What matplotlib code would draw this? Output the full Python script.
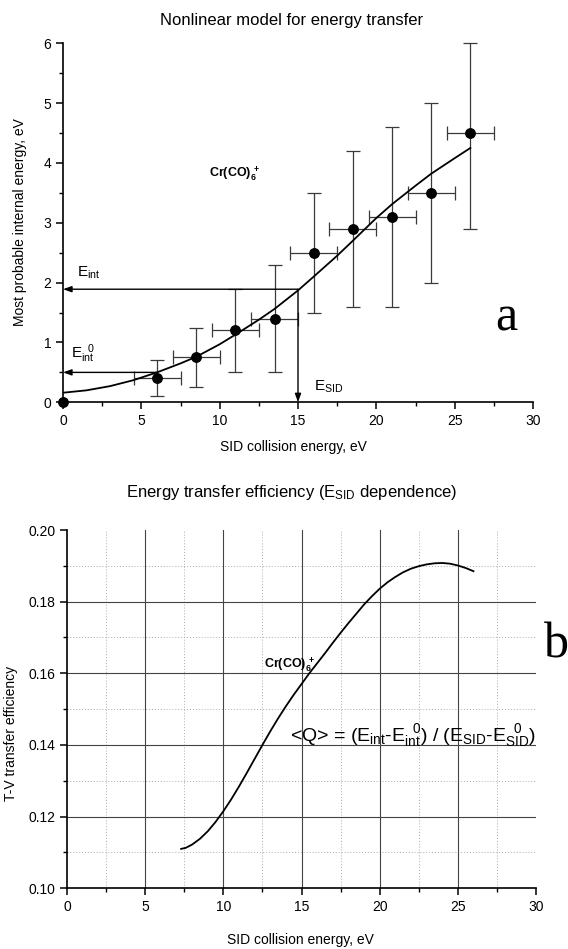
import matplotlib
matplotlib.use("Agg")
import matplotlib.pyplot as plt
import numpy as np
from matplotlib.ticker import MultipleLocator

plt.rcParams['font.family'] = ['Liberation Sans', 'DejaVu Sans']
plt.rcParams['mathtext.fontset'] = 'custom'
plt.rcParams['mathtext.rm'] = 'Liberation Sans'
plt.rcParams['mathtext.it'] = 'Liberation Sans'
plt.rcParams['mathtext.bf'] = 'Liberation Sans:bold'
plt.rcParams['mathtext.default'] = 'regular'

# ---- panel a data ----
e_sid = [0, 6, 8.5, 11, 13.5, 16, 18.5, 21, 23.5, 26]
e_int = [0, 0.4, 0.75, 1.2, 1.4, 2.5, 2.9, 3.1, 3.5, 4.5]
x_err = [0, 1.5, 1.5, 1.5, 1.5, 1.5, 1.5, 1.5, 1.5, 1.5]
y_low = [0, 0.1, 0.25, 0.5, 0.5, 1.5, 1.6, 1.6, 2.0, 2.9]
y_high = [0, 0.7, 1.25, 1.9, 2.3, 3.5, 4.2, 4.6, 5.0, 6.0]

fit_x = [0, 1.5, 3, 4.5, 6, 7.5, 8.5, 10, 11, 12.5, 13.5, 15, 16, 17.5, 18.5, 20, 21, 22.5, 23.5, 25, 26]
fit_y = [0.16, 0.20, 0.27, 0.37, 0.50, 0.65, 0.76, 0.97, 1.13, 1.38, 1.56, 1.87, 2.10, 2.45, 2.70,
         3.08, 3.31, 3.62, 3.82, 4.08, 4.25]

# ---- panel b data ----
q_x = [7.3, 7.6, 8.0, 8.5, 9.0, 9.5, 10, 10.5, 11, 11.5, 12, 12.5, 13, 13.5, 14, 14.5, 15, 15.5,
       16, 16.5, 17, 17.5, 18, 18.5, 19, 19.5, 20, 20.5, 21, 21.5, 22, 22.5, 23, 23.5, 24, 24.5,
       25, 25.5, 26]
q_y = [0.1110, 0.1113, 0.1122, 0.1138, 0.1159, 0.1185, 0.1215, 0.1248, 0.1284, 0.1322, 0.1361,
       0.1400, 0.1438, 0.1474, 0.1508, 0.1540, 0.1570, 0.1600, 0.1628, 0.1656, 0.1685, 0.1713,
       0.1740, 0.1766, 0.1792, 0.1815, 0.1836, 0.1854, 0.1869, 0.1882, 0.1892, 0.1899, 0.1904,
       0.1907, 0.1908, 0.1906, 0.1901, 0.1894, 0.1885]

W, H = 568, 949
fig = plt.figure(figsize=(W / 100, H / 100), dpi=100)

def fx(px):
    return px / W

def fy(py):
    return 1 - py / H

# ---------------- panel a ----------------
ax1 = fig.add_axes([fx(63), fy(402.3), fx(533) - fx(63), fy(43.3) - fy(402.3)])
ax1.set_xlim(0, 30)
ax1.set_ylim(0, 6)
for s in ['top', 'right']:
    ax1.spines[s].set_visible(False)
for s in ['left', 'bottom']:
    ax1.spines[s].set_linewidth(1.2)
ax1.xaxis.set_major_locator(MultipleLocator(5))
ax1.xaxis.set_minor_locator(MultipleLocator(2.5))
ax1.yaxis.set_major_locator(MultipleLocator(1))
ax1.yaxis.set_minor_locator(MultipleLocator(0.5))
ax1.tick_params(which='major', direction='out', length=5, width=1.1, labelsize=10)
ax1.tick_params(which='minor', direction='out', length=3, width=1.0)

ex = np.array(e_sid)
ey = np.array(e_int)
yerr = np.array([ey - np.array(y_low), np.array(y_high) - ey])
ax1.errorbar(ex[1:], ey[1:], xerr=np.array(x_err)[1:], yerr=yerr[:, 1:], fmt='none',
             ecolor='#3a3a3a', elinewidth=0.9, capsize=5, capthick=0.9, clip_on=False)
ax1.plot(ex, ey, 'o', color='black', ms=6.8, clip_on=False, zorder=5)
ax1.plot(fit_x, fit_y, color='black', lw=1.3)

arrow_kw = dict(arrowstyle='-|>,head_length=0.5,head_width=0.18', color='black', lw=1.0,
                shrinkA=0, shrinkB=0)
ax1.annotate('', xy=(0, 1.89), xytext=(15, 1.89), arrowprops=arrow_kw)
ax1.annotate('', xy=(15, 0), xytext=(15, 1.89), arrowprops=arrow_kw)
ax1.annotate('', xy=(0, 0.5), xytext=(6, 0.5), arrowprops=arrow_kw)

ax1.text(0.9, 2.02, r'E$_{int}$', fontsize=11, ha='left', va='bottom')
ax1.text(0.5, 0.62, r'E$_{int}^{\ \ 0}$', fontsize=11, ha='left', va='bottom')
ax1.text(16.0, 0.12, r'E$_{SID}$', fontsize=11, ha='left', va='bottom')
ax1.text(9.3, 3.82, r'Cr(CO)$_6^{\ +}$', fontsize=9, fontweight='bold', ha='left', va='center')
ax1.text(28.3, 1.4, 'a', fontsize=36, family='Liberation Serif', ha='center', va='center')

fig.text(fx(292), fy(20), 'Nonlinear model for energy transfer', fontsize=12, ha='center', va='center')
fig.text(fx(293), fy(447), 'SID collision energy, eV', fontsize=10, ha='center', va='center')
fig.text(fx(20), fy(222), 'Most probable internal energy, eV', fontsize=10, ha='center', va='center',
         rotation=90)

# ---------------- panel b ----------------
ax2 = fig.add_axes([fx(67), fy(888.3), fx(536) - fx(67), fy(530) - fy(888.3)])
ax2.set_xlim(0, 30)
ax2.set_ylim(0.10, 0.20)
for s in ['top', 'right']:
    ax2.spines[s].set_visible(False)
for s in ['left', 'bottom']:
    ax2.spines[s].set_linewidth(1.2)
ax2.xaxis.set_major_locator(MultipleLocator(5))
ax2.xaxis.set_minor_locator(MultipleLocator(2.5))
ax2.yaxis.set_major_locator(MultipleLocator(0.02))
ax2.yaxis.set_minor_locator(MultipleLocator(0.01))
ax2.yaxis.set_major_formatter(matplotlib.ticker.FormatStrFormatter('%.2f'))
ax2.tick_params(which='major', direction='out', length=5, width=1.1, labelsize=10)
ax2.tick_params(which='minor', direction='out', length=3, width=1.0)

xmaj = [t for t in ax2.get_xticks() if 0 < t < 30]
xmin = [t for t in ax2.xaxis.get_minorticklocs() if 0 < t < 30 and t % 5 != 0]
ymaj = [t for t in ax2.get_yticks() if 0.1005 < t < 0.1995]
ymin = [t for t in ax2.yaxis.get_minorticklocs() if 0.1005 < t < 0.1995 and round(t * 100) % 2 == 1]
for t in xmin:
    ax2.axvline(t, color='#aaaaaa', lw=0.7, ls=(0, (1, 2)), zorder=0)
for t in ymin:
    ax2.axhline(t, color='#aaaaaa', lw=0.7, ls=(0, (1, 2)), zorder=0)
for t in xmaj:
    ax2.axvline(t, color='#444444', lw=0.8, zorder=0)
for t in ymaj:
    ax2.axhline(t, color='#444444', lw=0.8, zorder=0)

ax2.plot(q_x, q_y, color='black', lw=1.3)
ax2.text(12.6, 0.1625, r'Cr(CO)$_6^{\ +}$', fontsize=9, fontweight='bold', ha='left', va='center')
ax2.text(14.25, 0.1427, r'<Q> = (E$_{int}$-E$_{int}^{\ \ 0}$) / (E$_{SID}$-E$_{SID}^{\ \ 0}$)',
         fontsize=14, ha='left', va='center')
fig.text(fx(556), fy(645), 'b', fontsize=36, family='Liberation Serif', ha='center', va='center')

fig.text(fx(292), fy(493), r'Energy transfer efficiency (E$_{SID}$ dependence)', fontsize=12,
         ha='center', va='center')
fig.text(fx(300), fy(940), 'SID collision energy, eV', fontsize=10, ha='center', va='center')
fig.text(fx(11), fy(733), 'T-V transfer efficiency', fontsize=10, ha='center', va='center', rotation=90)

fig.savefig('out.png', dpi=100)
